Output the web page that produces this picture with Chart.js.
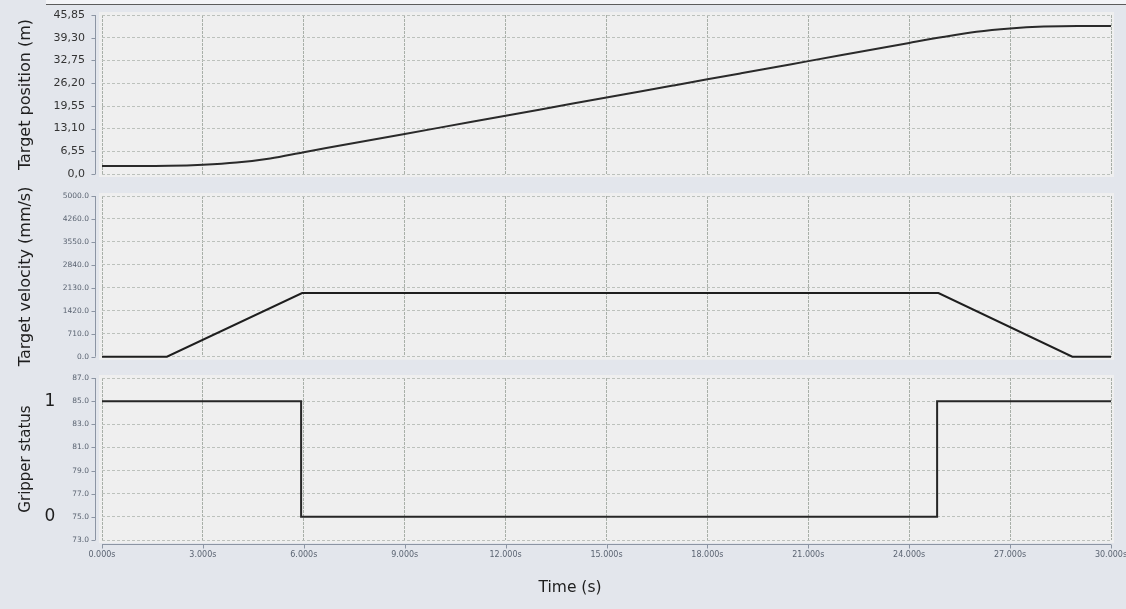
<!DOCTYPE html>
<html lang="en">
<head>
<meta charset="UTF-8">
<title>Target trajectory</title>
<style>
  html, body { margin:0; padding:0; }
  body { width:1126px; height:609px; background:#e3e6ec; position:relative; overflow:hidden; font-family:'DejaVu Sans',sans-serif; }
  .topline { position:absolute; left:46px; right:0; top:0; height:4px; background:#f3f4f7; border-bottom:1.5px solid #5c5c5c; }
  canvas { position:absolute; left:0; }
  #posChart { top:0; }
  #velChart { top:185px; }
  #gripChart { top:367px; }
</style>
</head>
<body>
<div class="topline"></div>
<canvas id="posChart" width="1126" height="185"></canvas>
<canvas id="velChart" width="1126" height="182"></canvas>
<canvas id="gripChart" width="1126" height="242"></canvas>

<script src="https://cdn.jsdelivr.net/npm/chart.js"></script>
<script>
// values
const timeTicks = ['0.000s','3.000s','6.000s','9.000s','12.000s','15.000s','18.000s','21.000s','24.000s','27.000s','30.000s'];
const posTicks = ['0,0','6,55','13,10','19,55','26,20','32,75','39,30','45,85'];
const velTicks = ['0.0','710.0','1420.0','2130.0','2840.0','3550.0','4260.0','5000.0'];
const velTickValues = [0,710,1420,2130,2840,3550,4260,4970];
const gripTicks = ['73.0','75.0','77.0','79.0','81.0','83.0','85.0','87.0'];

const posTime  = [0,1,2,3,4,5,6,7,8,9,10,11,12,13,14,15,16,17,18,19,20,21,22,23,24,25,26,27,28,29,30];
const posValue = [2.3,2.3,2.35,2.65,3.3,4.5,6.3,8.05,9.8,11.55,13.3,15.05,16.8,18.55,20.3,22.05,
                  23.8,25.55,27.3,29.05,30.8,32.55,34.3,36.05,37.8,39.5,41.0,41.95,42.5,42.7,42.7];

const velTime  = [0,1.93,5.95,24.87,28.85,30];
const velValue = [0,0,1970,1970,0,0];

const gripTime  = [0,5.92,5.92,24.83,24.83,30];
const gripValue = [85,85,75,75,85,85];

// plot background, offset axis lines, side titles
const panelDeco = {
  id: 'panelDeco',
  beforeDraw(chart) {
    const {ctx, chartArea: a} = chart;
    ctx.save();
    ctx.fillStyle = '#efefef';
    ctx.fillRect(a.left - 3, a.top - 3, a.width + 6, a.height + 6);
    ctx.restore();
  },
  afterDraw(chart, args, opts) {
    const {ctx, chartArea: a} = chart;
    const x = chart.scales.x, y = chart.scales.y;
    ctx.save();
    ctx.strokeStyle = '#8c95a3';
    ctx.lineWidth = 1;
    ctx.beginPath();
    const ax = Math.round(a.left) - 6.5;
    ctx.moveTo(ax, y.getPixelForValue(y.max));
    ctx.lineTo(ax, y.getPixelForValue(y.min));
    y.ticks.forEach(t => {
      const py = Math.round(y.getPixelForValue(t.value)) + 0.5;
      ctx.moveTo(ax - 4, py); ctx.lineTo(ax, py);
    });
    if (opts.xAxis) {
      const ay = Math.round(a.bottom) + 4.5;
      ctx.moveTo(x.getPixelForValue(x.min), ay);
      ctx.lineTo(x.getPixelForValue(x.max), ay);
      x.ticks.forEach(t => {
        const px = Math.round(x.getPixelForValue(t.value)) + 0.5;
        ctx.moveTo(px, ay); ctx.lineTo(px, ay + 4);
      });
    }
    ctx.stroke();

    ctx.fillStyle = '#1e1e1e';
    ctx.textAlign = 'center';
    ctx.textBaseline = 'middle';
    (opts.marks || []).forEach(m => {
      ctx.font = '17px "DejaVu Sans"';
      ctx.fillText(m.text, 50, y.getPixelForValue(m.value));
    });
    if (opts.xTitle) {
      ctx.font = '15.5px "DejaVu Sans"';
      ctx.fillText(opts.xTitle, 570, a.bottom + 48);
    }
    ctx.translate(26, (a.top + a.bottom) / 2);
    ctx.rotate(-Math.PI / 2);
    ctx.font = opts.titleSize + 'px "DejaVu Sans"';
    ctx.fillText(opts.title, 0, 0);
    ctx.restore();
  }
};

function makePanel(id, p) {
  return new Chart(document.getElementById(id), {
    type: 'line',
    data: {
      datasets: [{
        data: p.time.map((t, i) => ({x: t, y: p.values[i]})),
        borderColor: p.lineColor,
        borderWidth: 2,
        pointRadius: 0,
        cubicInterpolationMode: p.smooth ? 'monotone' : 'default',
        tension: 0,
        clip: false
      }]
    },
    plugins: [panelDeco],
    options: {
      responsive: false,
      animation: false,
      layout: { padding: { left: 0, right: 15, top: p.top, bottom: 0 } },
      plugins: {
        legend: { display: false },
        tooltip: { enabled: false },
        panelDeco: { title: p.title, titleSize: p.titleSize, marks: p.marks, xAxis: p.showTime, xTitle: p.xTitle }
      },
      scales: {
        x: {
          type: 'linear', min: 0, max: 30,
          afterBuildTicks: s => { s.ticks = timeTicks.map(l => ({value: parseFloat(l)})); },
          afterFit: s => { s.height = p.xHeight; s.paddingLeft = 0; s.paddingRight = 0; },
          ticks: {
            display: p.showTime, autoSkip: false, maxRotation: 0, padding: 10,
            color: '#5b6472', font: { family: 'DejaVu Sans', size: 8 },
            callback: (v, i) => timeTicks[i]
          },
          grid: { color: '#a8afa8', drawTicks: false },
          border: { display: false, dash: [3, 1] }
        },
        y: {
          min: p.tickValues[0], max: p.tickValues[p.tickValues.length - 1],
          afterBuildTicks: s => { s.ticks = p.tickValues.map(v => ({value: v})); },
          afterFit: s => { s.width = 102; s.paddingTop = 0; s.paddingBottom = 0; },
          ticks: {
            autoSkip: false, padding: p.tickPad, color: p.tickColor, font: p.tickFont,
            callback: (v, i) => p.tickLabels[i]
          },
          grid: { color: '#bcc1bc', drawTicks: false },
          border: { display: false, dash: [3, 2] }
        }
      }
    }
  });
}

makePanel('posChart', {
  time: posTime, values: posValue, smooth: true, lineColor: '#2a2a2a',
  top: 15, xHeight: 11, showTime: false,
  tickLabels: posTicks, tickValues: posTicks.map(l => parseFloat(l.replace(',', '.'))),
  tickPad: 17, tickColor: '#333333', tickFont: { family: 'DejaVu Sans', size: 11 },
  title: 'Target position (m)', titleSize: 16
});

makePanel('velChart', {
  time: velTime, values: velValue, smooth: false, lineColor: '#1e1e1e',
  top: 11, xHeight: 10.3, showTime: false,
  tickLabels: velTicks, tickValues: velTickValues,
  tickPad: 13, tickColor: '#5b6472', tickFont: { family: 'DejaVu Sans', size: 7.5 },
  title: 'Target velocity (mm/s)', titleSize: 16
});

makePanel('gripChart', {
  time: gripTime, values: gripValue, smooth: false, lineColor: '#262626',
  top: 11, xHeight: 69, showTime: true, xTitle: 'Time (s)',
  tickLabels: gripTicks, tickValues: gripTicks.map(l => parseFloat(l)),
  tickPad: 13, tickColor: '#5b6472', tickFont: { family: 'DejaVu Sans', size: 7.5 },
  title: 'Gripper status', titleSize: 15,
  marks: [{ value: 85, text: '1' }, { value: 75, text: '0' }]
});
</script>
</body>
</html>
